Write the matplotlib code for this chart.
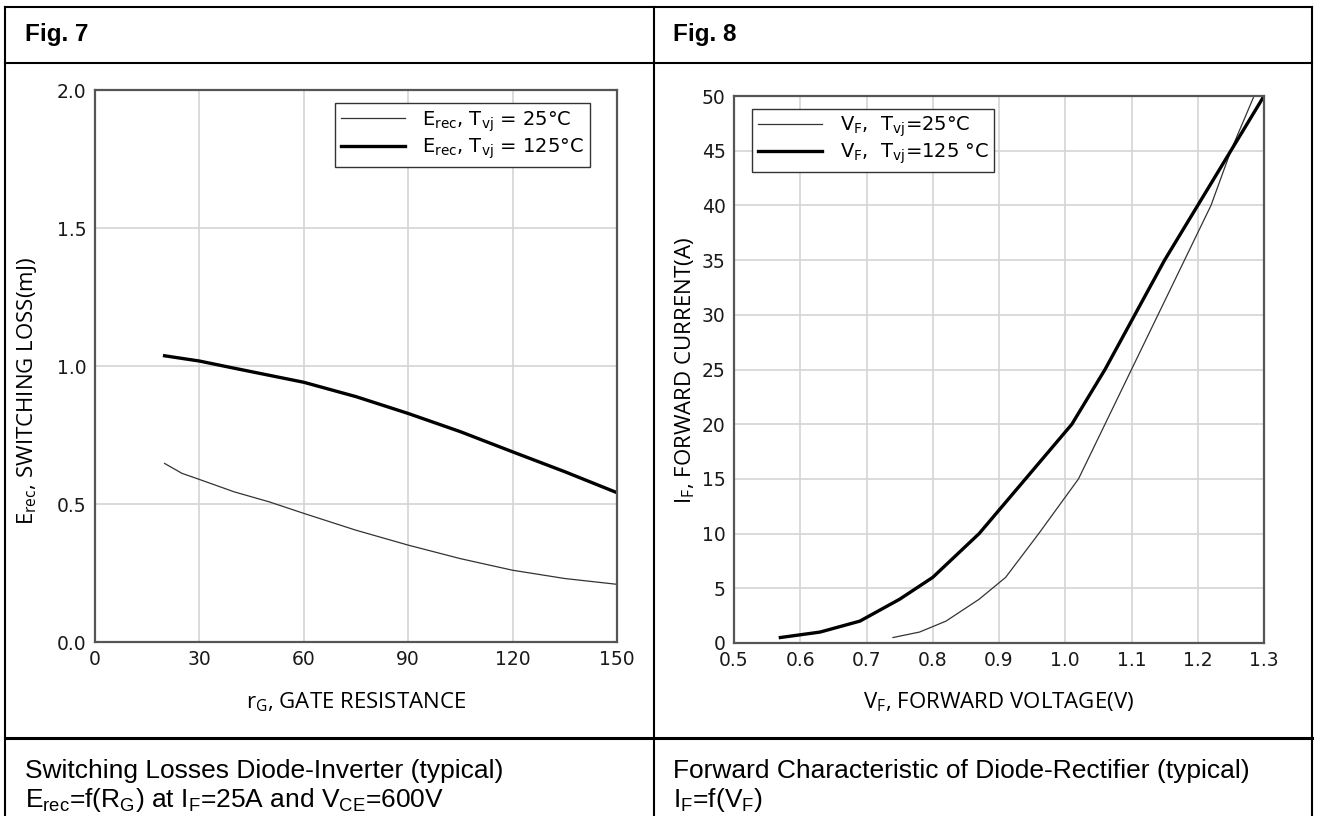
import matplotlib
matplotlib.use('Agg')
import matplotlib.pyplot as plt
from matplotlib import font_manager
from matplotlib.lines import Line2D

plt.rcParams['font.family'] = 'Liberation Sans'
plt.rcParams['mathtext.fontset'] = 'custom'
plt.rcParams['mathtext.rm'] = 'Liberation Sans'

# Fig. 7 - switching losses vs gate resistance
rg_25 = [20, 25, 30, 40, 50, 60, 75, 90, 105, 120, 135, 150]
erec_25 = [0.647, 0.611, 0.589, 0.544, 0.508, 0.466, 0.405, 0.351, 0.302, 0.260, 0.230, 0.209]
rg_125 = [20, 30, 40, 60, 75, 90, 105, 120, 135, 150]
erec_125 = [1.037, 1.018, 0.992, 0.941, 0.889, 0.828, 0.762, 0.689, 0.617, 0.541]

# Fig. 8 - forward characteristic
vf_25 = [0.74, 0.78, 0.82, 0.87, 0.91, 0.96, 1.02, 1.06, 1.10, 1.14, 1.18, 1.22, 1.25, 1.285]
if_25 = [0.5, 1, 2, 4, 6, 10, 15, 20, 25, 30, 35, 40, 45, 50]
vf_125 = [0.57, 0.63, 0.69, 0.75, 0.80, 0.87, 0.94, 1.01, 1.06, 1.105, 1.15, 1.20, 1.25, 1.30]
if_125 = [0.5, 1, 2, 4, 6, 10, 15, 20, 25, 30, 35, 40, 45, 50]

W, H = 1317, 816
fig = plt.figure(figsize=(W / 100, H / 100), dpi=100)


def fx(px):
    return px / W


def fy(py):
    return 1 - py / H


# caption font: narrow Arial look if available
names = {f.name for f in font_manager.fontManager.ttflist}
if 'Liberation Sans Narrow' in names:
    cap = dict(family='Liberation Sans Narrow', size=21.5)
else:
    cap = dict(family='Liberation Sans', size=19)

# table frame
for y in (7, 63):
    fig.add_artist(Line2D([fx(5), fx(1312)], [fy(y), fy(y)], color='black', lw=1.5))
fig.add_artist(Line2D([fx(5), fx(1312)], [fy(738), fy(738)], color='black', lw=2.2))
for x in (5, 654, 1312):
    fig.add_artist(Line2D([fx(x), fx(x)], [fy(7), fy(816)], color='black', lw=1.5))

lab_font = dict(family='Open Sans', size=16)


def style_axes(ax):
    ax.grid(True, color='#d4d4d4', lw=1.2)
    ax.set_axisbelow(True)
    for s in ax.spines.values():
        s.set_color('#555555')
        s.set_linewidth(1.6)
    ax.tick_params(length=0, pad=6, labelcolor='#1a1a1a')
    for lb in ax.get_xticklabels() + ax.get_yticklabels():
        lb.set_fontfamily('DejaVu Sans')
        lb.set_fontsize(13.5)


leg_kw = dict(borderaxespad=0, fancybox=False, framealpha=1, edgecolor='#333333',
              prop=dict(family='DejaVu Sans', size=14), handlelength=3.3,
              handletextpad=0.9, labelspacing=0.15, borderpad=0.3)

ax1 = fig.add_axes([fx(95), fy(642), (617 - 95) / W, (642 - 90) / H])
ax1.plot(rg_25, erec_25, color='#333333', lw=0.9,
         label=r'$\mathregular{E_{rec}}$, $\mathregular{T_{vj}}$ = 25°C')
ax1.plot(rg_125, erec_125, color='black', lw=2.4,
         label=r'$\mathregular{E_{rec}}$, $\mathregular{T_{vj}}$ = 125°C')
ax1.set_xlim(0, 150)
ax1.set_ylim(0, 2.0)
ax1.set_xticks([0, 30, 60, 90, 120, 150])
ax1.set_yticks([0, 0.5, 1.0, 1.5, 2.0])
ax1.set_yticklabels(['0.0', '0.5', '1.0', '1.5', '2.0'])
style_axes(ax1)
leg1 = ax1.legend(loc='upper right', bbox_to_anchor=(0.948, 0.976), **leg_kw)
leg1.get_frame().set_linewidth(1.0)

ax2 = fig.add_axes([fx(734), fy(643), (1264 - 734) / W, (643 - 96) / H])
ax2.plot(vf_25, if_25, color='#333333', lw=0.9,
         label=r'$\mathregular{V_F}$,  $\mathregular{T_{vj}}$=25°C')
ax2.plot(vf_125, if_125, color='black', lw=2.4,
         label=r'$\mathregular{V_F}$,  $\mathregular{T_{vj}}$=125 °C')
ax2.set_xlim(0.5, 1.3)
ax2.set_ylim(0, 50)
ax2.set_xticks([0.5, 0.6, 0.7, 0.8, 0.9, 1.0, 1.1, 1.2, 1.3])
ax2.set_xticklabels(['0.5', '0.6', '0.7', '0.8', '0.9', '1.0', '1.1', '1.2', '1.3'])
ax2.set_yticks(range(0, 51, 5))
style_axes(ax2)
leg2 = ax2.legend(loc='upper left', bbox_to_anchor=(0.034, 0.977), **leg_kw)
leg2.get_frame().set_linewidth(1.0)

# axis labels
fig.text(fx(27), fy(391), r'$\mathregular{E_{rec}}$, SWITCHING LOSS(mJ)', rotation=90,
         ha='center', va='center', **lab_font)
fig.text(fx(356), fy(708), r'$\mathregular{r_G}$, GATE RESISTANCE',
         ha='center', va='baseline', **lab_font)
fig.text(fx(685), fy(371), r'$\mathregular{I_F}$, FORWARD CURRENT(A)', rotation=90,
         ha='center', va='center', **lab_font)
fig.text(fx(999), fy(708), r'$\mathregular{V_F}$, FORWARD VOLTAGE(V)',
         ha='center', va='baseline', **lab_font)

# header and captions
fig.text(fx(25), fy(35), 'Fig. 7', ha='left', va='center', fontsize=17.5, fontweight='bold')
fig.text(fx(673), fy(35), 'Fig. 8', ha='left', va='center', fontsize=17.5, fontweight='bold')

fig.text(fx(25), fy(778), 'Switching Losses Diode-Inverter (typical)',
         ha='left', va='baseline', **cap)
fig.text(fx(25), fy(807),
         r'$\mathregular{E_{rec}}$=f($\mathregular{R_G}$) at $\mathregular{I_F}$=25A and $\mathregular{V_{CE}}$=600V',
         ha='left', va='baseline', **cap)
fig.text(fx(673), fy(778), 'Forward Characteristic of Diode-Rectifier (typical)',
         ha='left', va='baseline', **cap)
fig.text(fx(673), fy(807), r'$\mathregular{I_F}$=f($\mathregular{V_F}$)',
         ha='left', va='baseline', **cap)

fig.savefig('out.png', dpi=100)
